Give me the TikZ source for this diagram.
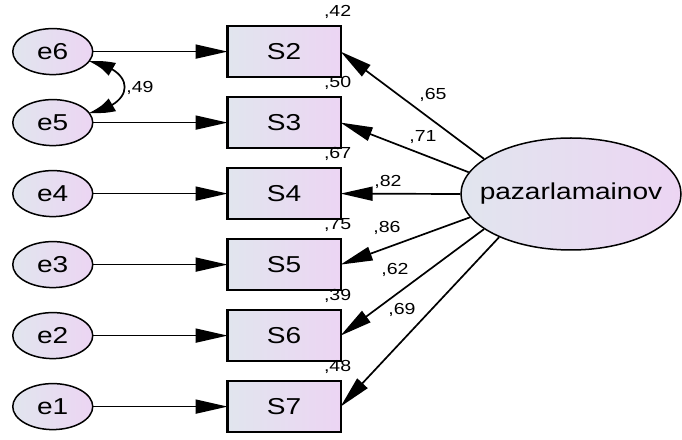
\documentclass[tikz,border=0pt]{standalone}
\usepackage{fontspec}
\setmainfont[FakeStretch=1.22]{Liberation Sans}
\usepackage{xcolor}
\usetikzlibrary{matrix,arrows.meta,bending,positioning,shapes.geometric}
\definecolor{amosleft}{RGB}{225,229,238}
\definecolor{amosright}{RGB}{236,213,243}
\tikzset{
  gradfill/.style={left color=amosleft,right color=amosright},
  err/.style={ellipse,draw,line width=1.5pt,gradfill,minimum width=80pt,minimum height=46pt,inner sep=0pt},
  obs/.style={rectangle,draw,line width=2.2pt,gradfill,minimum width=113pt,minimum height=51pt,inner sep=0pt},
  lat/.style={ellipse,draw,line width=1.5pt,gradfill,minimum width=220pt,minimum height=112pt,inner sep=0pt},
  big/.style={font=\fontsize{23}{25}\selectfont},
  est/.style={font=\fontsize{16}{18}\selectfont,inner sep=0pt},
  reg/.style={line width=1.7pt,-{Triangle[length=32pt,width=14pt]}},
  cov/.style={line width=1.7pt,{Triangle[length=28pt,width=14pt,bend]}-{Triangle[length=28pt,width=14pt,bend]}}
}

\begin{document}
\begin{tikzpicture}[x=1pt,y=1pt]
 \useasboundingbox (0,0) rectangle (682,439);

 \matrix (m) [matrix of nodes,anchor=north west,inner sep=0pt,outer sep=0pt,
 row sep=17.8pt,column sep=133pt,
 nodes={anchor=center,big},
 column 1/.style={nodes={err}},
 column 2/.style={nodes={obs}}] at (12,414) {
   |(e6)| e6 & |(S2)| S2 \\
   |(e5)| e5 & |(S3)| S3 \\
   |(e4)| e4 & |(S4)| S4 \\
   |(e3)| e3 & |(S5)| S5 \\
   |(e2)| e2 & |(S6)| S6 \\
   |(e1)| e1 & |(S7)| S7 \\
 };

 \node[lat,label={[big]center:pazarlamainov}] (pz) at (571,245) {};

 % errors into the items
 \draw[reg] (e6) -- (S2);
 \draw[reg] (e5) -- (S3);
 \draw[reg] (e4) -- (S4);
 \draw[reg] (e3) -- (S5);
 \draw[reg] (e2) -- (S6);
 \draw[reg] (e1) -- (S7);

 \draw[cov] (e6.-15) to[out=-10,in=10,looseness=2.4] (e5.15);
 \node[est] (c56) at (140,351) {,49};

 % loadings
 \draw[reg] (pz.158) -- (S2.east);
 \draw[reg] (pz.168) -- (S3.east);
 \draw[reg] (pz.180) -- (S4.east);
 \draw[reg] (pz.193) -- (S5.east);
 \draw[reg] (pz.202) -- (S6.east);
 \draw[reg] (pz.211) -- (S7.east);

 \node[est] (l2) at (433,344) {,65};
 \node[est] (l3) at (423,302) {,71};
 \node[est] (l4) at (388,257) {,82};
 \node[est] (l5) at (387,211) {,86};
 \node[est] (l6) at (395,169) {,62};
 \node[est] (l7) at (402,129) {,69};

 % squared multiple correlations
 \node[est,anchor=base] (r2) at ([shift={(-3,10)}]S2.north east) {,42};
 \node[est,anchor=base] (r3) at ([shift={(-3,10)}]S3.north east) {,50};
 \node[est,anchor=base] (r4) at ([shift={(-3,10)}]S4.north east) {,67};
 \node[est,anchor=base] (r5) at ([shift={(-3,10)}]S5.north east) {,75};
 \node[est,anchor=base] (r6) at ([shift={(-3,10)}]S6.north east) {,39};
 \node[est,anchor=base] (r7) at ([shift={(-3,10)}]S7.north east) {,48};

\end{tikzpicture}
\end{document}
